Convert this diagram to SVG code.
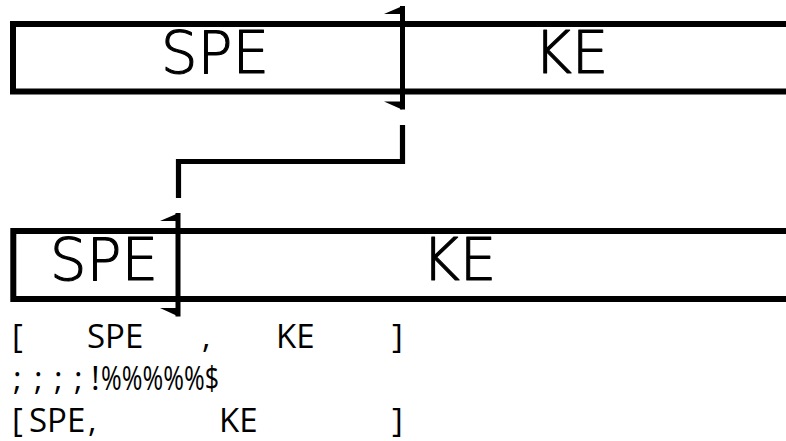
<svg xmlns="http://www.w3.org/2000/svg" width="786" height="441" viewBox="0 0 786 441">
<style>
.box{fill:none;stroke:#000;stroke-width:6}
.bar{fill:#000}
.conn{fill:none;stroke:#000;stroke-width:5.2;stroke-linejoin:miter;stroke-linecap:butt}
.big{font-family:"DejaVu Sans","Liberation Sans",sans-serif;font-weight:200;font-size:58px;fill:#000;stroke:#000;stroke-width:1.1;stroke-linejoin:round;stroke-linecap:round;text-anchor:middle}
.small{font-family:"Open Sans","Noto Sans",sans-serif;font-size:33px;fill:#000}
</style>
<rect width="786" height="441" fill="#fff"/>
<g id="top-row">
  <rect class="box" x="13" y="24" width="800" height="67.5"/>
  <g id="top-spe"><text class="big" x="215" y="73">SPE</text></g>
  <g id="top-ke"><text class="big" x="571" y="73">KE</text></g>
  <g id="top-divider">
    <rect class="bar" x="400" y="6" width="5" height="103.5"/>
    <polygon class="bar" points="384,14 402,6.3 402,14"/>
    <polygon class="bar" points="384,101.5 402,101.5 402,109.5"/>
  </g>
</g>
<g id="connectors">
  <path class="conn" d="M402.5,125 V161.5 H178.5 V198"/>
</g>
<g id="bottom-row">
  <rect class="box" x="13.3" y="231" width="800" height="68"/>
  <g id="bottom-spe"><text class="big" x="104" y="280">SPE</text></g>
  <g id="bottom-ke"><text class="big" x="459" y="280">KE</text></g>
  <g id="bottom-divider">
    <rect class="bar" x="175.5" y="213" width="5" height="103.5"/>
    <polygon class="bar" points="160,221 178,213.3 178,221"/>
    <polygon class="bar" points="160,308 178,308 178,316.3"/>
  </g>
</g>
<g id="listing">
  <text class="small" y="348"><tspan x="12">[</tspan><tspan x="87">SPE</tspan><tspan x="202">,</tspan><tspan x="276">KE</tspan><tspan x="392">]</tspan></text>
  <text class="small" y="390"><tspan x="13">;</tspan><tspan x="34">;</tspan><tspan x="54">;</tspan><tspan x="74">;</tspan><tspan x="91">!</tspan><tspan x="101" textLength="118" lengthAdjust="spacingAndGlyphs">%%%%%$</tspan></text>
  <text class="small" y="432"><tspan x="12">[</tspan><tspan x="29">SPE</tspan><tspan x="88">,</tspan><tspan x="219">KE</tspan><tspan x="392">]</tspan></text>
</g>
</svg>
